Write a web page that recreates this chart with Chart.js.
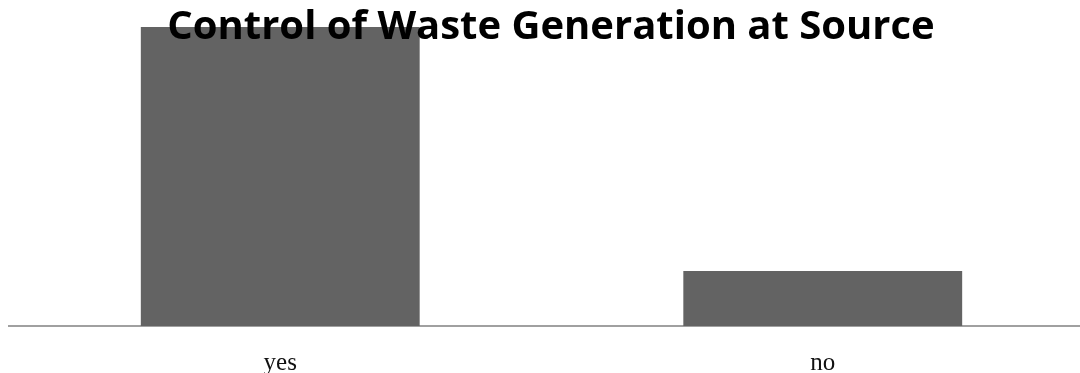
<!DOCTYPE html>
<html>
<head>
<meta charset="utf-8">
<script src="https://cdn.jsdelivr.net/npm/chart.js@4/dist/chart.umd.min.js"></script>
<style>
  html, body { margin: 0; padding: 0; background: #fff; overflow: hidden; }
  #wrap { width: 1095px; height: 373px; }
</style>
</head>
<body>
<div id="wrap"><canvas id="c"></canvas></div>
<script>
const chartTitle = "Control of Waste Generation at Source";
const categories = ["yes", "no"];
const responses = [49, 9];

// title sits on top of the bars, so draw it after the datasets
const titleOnTop = {
  id: "titleOnTop",
  afterDatasetsDraw(chart) {
    const ctx = chart.ctx;
    ctx.save();
    ctx.font = "bold 40px 'Open Sans'";
    ctx.fillStyle = "#000";
    ctx.textAlign = "center";
    ctx.textBaseline = "alphabetic";
    ctx.fillText(chartTitle, 551, 39);
    ctx.restore();
  }
};

new Chart(document.getElementById("c"), {
  type: "bar",
  data: {
    labels: categories,
    datasets: [{
      data: responses,
      backgroundColor: "#636363",
      borderWidth: 0,
      categoryPercentage: 0.514,
      barPercentage: 1
    }]
  },
  options: {
    responsive: true,
    maintainAspectRatio: false,
    animation: false,
    layout: { padding: { left: 9, right: 1, top: 21, bottom: 0 } },
    plugins: { legend: { display: false }, title: { display: false }, tooltip: { enabled: false } },
    scales: {
      x: {
        grid: { display: false },
        border: { color: "#a0a0a0", width: 2 },
        ticks: { color: "#111", font: { family: "'Liberation Serif'", size: 25 }, padding: 14 },
        afterFit(scale) { scale.height = 47; }
      },
      y: { display: false, min: 0, max: 50 }
    }
  },
  plugins: [titleOnTop]
});
</script>
</body>
</html>
